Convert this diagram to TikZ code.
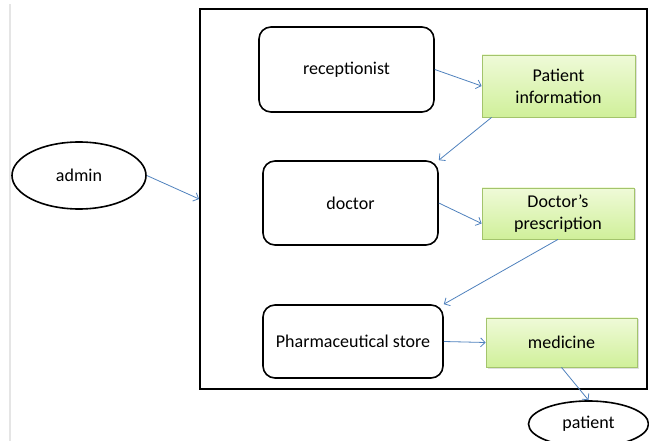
\documentclass[tikz,border=0pt]{standalone}
\usepackage{fontspec}
\setmainfont{Carlito}
\usetikzlibrary{shapes,arrows,positioning,calc,arrows.meta,shadows}
\definecolor{flowblue}{HTML}{4F81BD}
\definecolor{boxgreen}{HTML}{A3C46C}
\definecolor{greentop}{HTML}{EFFAD8}
\definecolor{greenbot}{HTML}{D0F09A}
\tikzset{
    rolebox/.style={draw, rounded corners=12pt, line width=1.6pt, align=center},
    databox/.style={draw=boxgreen, line width=0.8pt, top color=greentop, bottom color=greenbot,
        align=center, drop shadow={shadow xshift=1.5pt, shadow yshift=-1.5pt, opacity=0.25}},
    userell/.style={draw, ellipse, line width=1.6pt},
    flow/.style={draw=flowblue, line width=0.8pt, -{Straight Barb[length=4.5pt,width=9pt]}}
}
\begin{document}
\begin{tikzpicture}[x=1pt, y=-1pt, font=\fontsize{18}{22}\selectfont]
    \useasboundingbox (0,0) rectangle (649,441);
    \draw[black!10, line width=2.5pt] (10,4) -- (10,441);
    \node[draw, line width=1.8pt, minimum width=447pt, minimum height=380pt] (frame) at (423.5,199) {};

    \node[userell, minimum width=134pt, minimum height=67pt] (admin) at (79,175.5) {admin};
    \node[userell, minimum width=120pt, minimum height=46pt] (patient) at (588.5,424) {patient};

    \node[rolebox, minimum width=175pt, minimum height=85pt] (recep) at (346.5,69.5) {receptionist};
    \node[rolebox, minimum width=175pt, minimum height=84pt] (doctor) at (350.5,203) {doctor};
    \node[rolebox, minimum width=180pt, minimum height=73pt] (store) at (353,341.5) {Pharmaceutical store};

    \node[databox, minimum width=153pt, minimum height=62pt] (info) at (558.5,86) {Patient\\information};
    \node[databox, minimum width=152pt, minimum height=51pt] (presc) at (558,213.5) {Doctor’s\\prescription};
    \node[databox, minimum width=151pt, minimum height=49pt] (med) at (561.5,342.5) {medicine};

    \draw[flow] (admin.east) -- (frame.west);
    \draw[flow] (recep.east) -- (info.west);
    \draw[flow] ([xshift=10pt]info.south west) -- (doctor.north east);
    \draw[flow] (doctor.east) -- ([yshift=-10pt]presc.west);
    \draw[flow] (presc.south) -- (store.north east);
    \draw[flow] (store.east) -- (med.west);
    \draw[flow] (med.south) -- (patient.north);
\end{tikzpicture}
\end{document}
